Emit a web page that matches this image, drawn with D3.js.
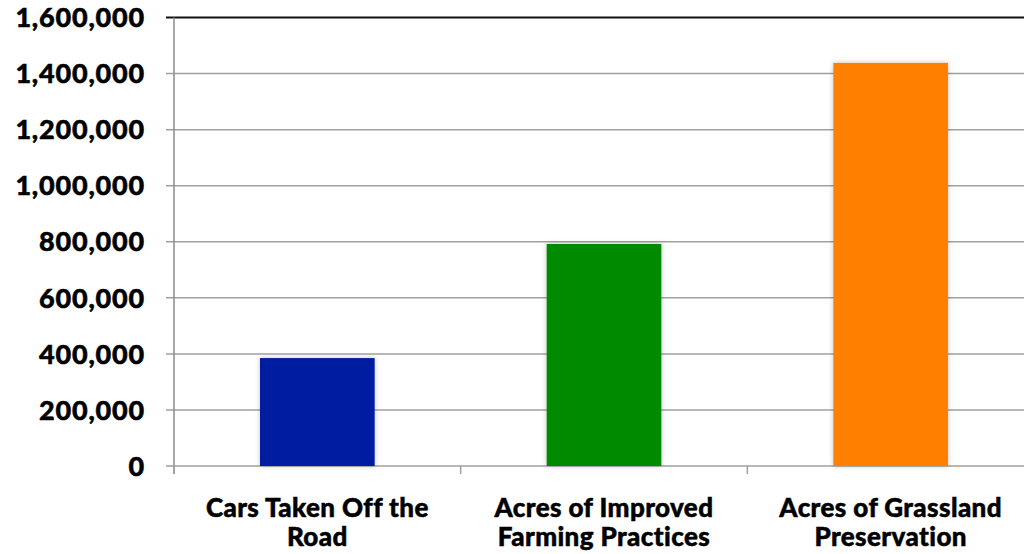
<!DOCTYPE html>
<html lang="en">
<head>
  <meta charset="UTF-8">
  <title>Conservation Impact</title>
  <script src="https://d3js.org/d3.v7.min.js"></script>
  <style>
    html, body {
      margin: 0;
      background: #fff;
    }
    svg {
      display: block;
    }
    text {
      font-family: Lato, "Open Sans", sans-serif;
      font-weight: 900;
      fill: #000;
    }
  </style>
</head>
<body>
  <svg width="1024" height="554"></svg>
  <script>
    // values
    const categories = [
      ["Cars Taken Off the", "Road"],
      ["Acres of Improved", "Farming Practices"],
      ["Acres of Grassland", "Preservation"]
    ];
    const values = [385000, 792000, 1438000];
    const colors = ["#001ca0", "#008a00", "#ff7f00"];
    const yTicks = [0, 200000, 400000, 600000, 800000, 1000000, 1200000, 1400000, 1600000];

    const svg = d3.select("svg");
    const plotLeft = 174, plotRight = 1034, plotTop = 17.5, plotBottom = 466;

    const x = d3.scaleBand()
      .domain(d3.range(categories.length))
      .range([plotLeft, plotRight])
      .paddingInner(0.6)
      .paddingOuter(0.3);

    const y = d3.scaleLinear()
      .domain([0, 1600000])
      .range([plotBottom, plotTop]);

    // soft shadow under the bars
    const defs = svg.append("defs");
    const f = defs.append("filter").attr("id", "shadow")
      .attr("x", "-10%").attr("y", "-10%").attr("width", "120%").attr("height", "120%");
    f.append("feDropShadow")
      .attr("dx", 0).attr("dy", 0).attr("stdDeviation", 2.5)
      .attr("flood-color", "#000").attr("flood-opacity", 0.25);

    // gridlines
    svg.append("g")
      .selectAll("line")
      .data(yTicks)
      .enter().append("line")
      .attr("x1", plotLeft - 8)
      .attr("x2", plotRight)
      .attr("y1", d => y(d))
      .attr("y2", d => y(d))
      .attr("stroke", d => d === 1600000 ? "#111" : "#a0a0a0")
      .attr("stroke-width", d => d === 1600000 ? 2 : 1.5);

    // y axis line
    svg.append("line")
      .attr("x1", plotLeft).attr("x2", plotLeft)
      .attr("y1", plotTop).attr("y2", plotBottom + 8)
      .attr("stroke", "#8c8c8c").attr("stroke-width", 1.5);

    // category ticks
    svg.append("g")
      .selectAll("line")
      .data(d3.range(categories.length))
      .enter().append("line")
      .attr("x1", d => plotLeft + d * (plotRight - plotLeft) / categories.length)
      .attr("x2", d => plotLeft + d * (plotRight - plotLeft) / categories.length)
      .attr("y1", plotBottom)
      .attr("y2", plotBottom + 8)
      .attr("stroke", "#a0a0a0").attr("stroke-width", 1.5);

    // y labels
    svg.append("g")
      .selectAll("text")
      .data(yTicks)
      .enter().append("text")
      .attr("x", 145)
      .attr("y", d => y(d))
      .attr("dy", "0.36em")
      .attr("text-anchor", "end")
      .style("font-size", "27px")
      .style("letter-spacing", "0.8px")
      .style("stroke", "#000")
      .style("stroke-width", "0.5px")
      .text(d => d3.format(",")(d));

    // bars
    svg.append("g")
      .selectAll("rect")
      .data(values)
      .enter().append("rect")
      .attr("x", (d, i) => x(i))
      .attr("width", x.bandwidth())
      .attr("y", d => y(d))
      .attr("height", d => plotBottom - y(d))
      .attr("fill", (d, i) => colors[i])
      .attr("filter", "url(#shadow)");

    // category labels
    const cat = svg.append("g")
      .selectAll("text")
      .data(categories)
      .enter().append("text")
      .attr("text-anchor", "middle")
      .style("font-size", "26px")
      .style("letter-spacing", "0.4px")
      .style("stroke", "#000")
      .style("stroke-width", "0.5px");
    cat.each(function(lines, i) {
      const t = d3.select(this);
      lines.forEach((line, j) => {
        t.append("tspan")
          .attr("x", x(i) + x.bandwidth() / 2)
          .attr("y", 517 + j * 29)
          .text(line);
      });
    });
  </script>
</body>
</html>
